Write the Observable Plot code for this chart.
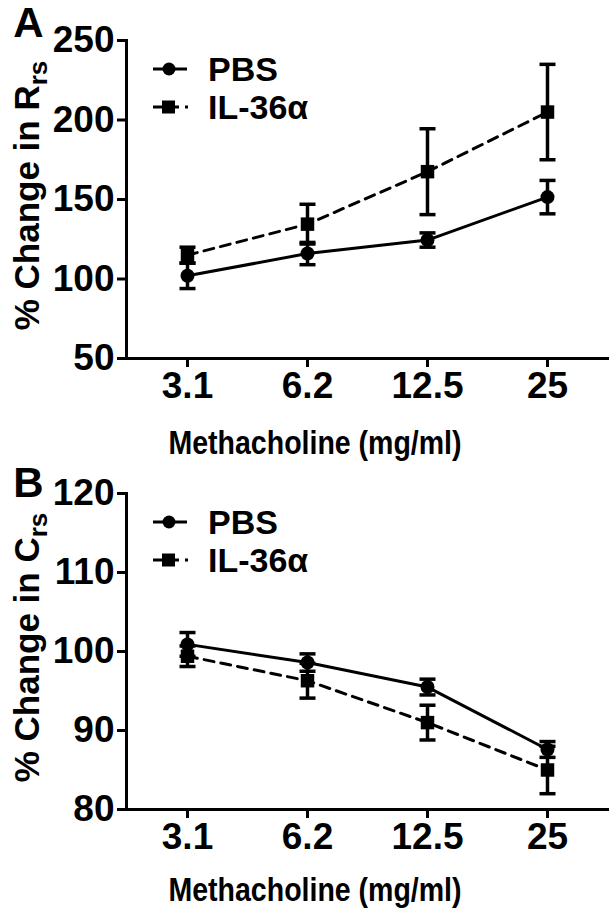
<!DOCTYPE html>
<html><head><meta charset="utf-8">
<script src="https://cdn.jsdelivr.net/npm/d3@7"></script>
<script src="https://cdn.jsdelivr.net/npm/@observablehq/plot@0.6"></script>
<style>
body{margin:0;background:#fff;}
#chart{width:613px;}
#chart svg{display:block;}
</style></head><body><div id="chart"></div>
<script>
// ---- data ----
const doses = ["3.1", "6.2", "12.5", "25"];
const seriesNames = ["PBS", "IL-36α"];
const rrsPBS = [102, 116, 124.5, 151.5];
const rrsPBSerr = [8, 7, 4.5, 10.5];
const rrsIL = [115, 134.5, 167.5, 205];
const rrsILerr = [5, 12.5, 27, 30];
const crsPBS = [100.9, 98.6, 95.5, 87.6];
const crsPBSerr = [1.5, 1.1, 1.0, 1.0];
const crsIL = [99.4, 96.3, 91.0, 85.0];
const crsILerr = [1.3, 2.2, 2.2, 3.0];
const rrsTicks = [50, 100, 150, 200, 250];
const crsTicks = [80, 90, 100, 110, 120];
const xTitle = "Methacholine (mg/ml)";

const FONT = "Arial, 'Liberation Sans', sans-serif";

// horizontal cap symbol for error bars
const capSymbol = {draw(ctx) { ctx.moveTo(-8, 0); ctx.lineTo(8, 0); }};

function rows(vals, errs, name) {
  return doses.map((d, i) => ({dose: d, v: vals[i], lo: vals[i] - errs[i], hi: vals[i] + errs[i], series: name}));
}

function panel({letter, yMain, ySub, domain, ticks, pbs, il, marginTop, marginBottom, height, letterDy, xTitleDy}) {
  const mL = 126, mR = 6;
  const all = pbs.concat(il);
  const svg = Plot.plot({
    width: 613, height, marginLeft: mL, marginRight: mR, marginTop, marginBottom,
    style: {fontFamily: FONT, fontWeight: "bold", fontSize: "37px", color: "black", background: "white", overflow: "visible"},
    x: {type: "point", domain: doses, padding: 0.5},
    y: {domain},
    marks: [
      Plot.frame({anchor: "left", strokeWidth: 3}),
      Plot.frame({anchor: "bottom", strokeWidth: 3}),
      Plot.axisY({ticks, tickSize: 9, tickPadding: 3, strokeWidth: 3, label: null}),
      Plot.axisX({tickSize: 9, tickPadding: 4, strokeWidth: 3, label: null}),
      Plot.line(pbs, {x: "dose", y: "v", strokeWidth: 3}),
      Plot.line(il, {x: "dose", y: "v", strokeWidth: 3, strokeDasharray: "10,7"}),
      Plot.ruleX(all, {x: "dose", y1: "lo", y2: "hi", strokeWidth: 3.5}),
      Plot.dot(all, {x: "dose", y: "hi", symbol: capSymbol, stroke: "black", strokeWidth: 3.5, fill: "none"}),
      Plot.dot(all, {x: "dose", y: "lo", symbol: capSymbol, stroke: "black", strokeWidth: 3.5, fill: "none"}),
      Plot.dot(pbs, {x: "dose", y: "v", symbol: "circle", r: 7, fill: "black"}),
      Plot.dot(il, {x: "dose", y: "v", symbol: "square", r: 7.6, fill: "black"}),
      Plot.text([yMain], {frameAnchor: "left", textAnchor: "middle", lineAnchor: "middle", rotate: -90, dx: -99, dy: -4, fontSize: 35, fontWeight: "bold"}),
      Plot.text([xTitle], {frameAnchor: "bottom", textAnchor: "middle", lineAnchor: "middle", dx: -52, dy: xTitleDy, fontSize: 34, fontWeight: "bold"}),
      Plot.text([letter], {frameAnchor: "top-left", textAnchor: "middle", lineAnchor: "middle", dx: -98, dy: letterDy, fontSize: 42, fontWeight: "bold"})
    ]
  });
  const s = d3.select(svg);
  // subscript on the y title
  s.selectAll("text").filter(function () { return this.textContent === yMain; })
    .append("tspan").attr("font-size", 26).attr("dy", "0.3em").text(ySub);
  // condensed x title like the reference
  s.selectAll("text").filter(function () { return this.textContent === xTitle; })
    .attr("textLength", 293).attr("lengthAdjust", "spacingAndGlyphs");
  // legend inside the frame
  const g = s.append("g").attr("transform", `translate(${mL},${marginTop})`);
  const rowsY = [29, 67];
  g.append("line").attr("x1", 27).attr("x2", 61).attr("y1", rowsY[0]).attr("y2", rowsY[0]).attr("stroke", "black").attr("stroke-width", 3);
  g.append("circle").attr("cx", 43).attr("cy", rowsY[0]).attr("r", 6.5).attr("fill", "black");
  g.append("line").attr("x1", 27).attr("x2", 62).attr("y1", rowsY[1]).attr("y2", rowsY[1]).attr("stroke", "black").attr("stroke-width", 3).attr("stroke-dasharray", "10,6");
  g.append("rect").attr("x", 36).attr("y", rowsY[1] - 6.5).attr("width", 13).attr("height", 13).attr("fill", "black");
  seriesNames.forEach((n, i) => {
    g.append("text").attr("x", 82).attr("y", rowsY[i]).attr("dy", "0.36em").attr("text-anchor", "start")
      .attr("font-size", 34).attr("font-weight", "bold").attr("font-family", FONT).attr("fill", "black").text(n);
  });
  return svg;
}

const root = document.getElementById("chart");
root.appendChild(panel({
  letter: "A", yMain: "% Change in R", ySub: "rs", domain: [50, 250], ticks: rrsTicks,
  pbs: rows(rrsPBS, rrsPBSerr, seriesNames[0]), il: rows(rrsIL, rrsILerr, seriesNames[1]),
  marginTop: 40, marginBottom: 100, height: 458, letterDy: -17, xTitleDy: 85
}));
root.appendChild(panel({
  letter: "B", yMain: "% Change in C", ySub: "rs", domain: [80, 120], ticks: crsTicks,
  pbs: rows(crsPBS, crsPBSerr, seriesNames[0]), il: rows(crsIL, crsILerr, seriesNames[1]),
  marginTop: 35, marginBottom: 107, height: 458, letterDy: -10, xTitleDy: 81
}));
</script>
</body></html>
